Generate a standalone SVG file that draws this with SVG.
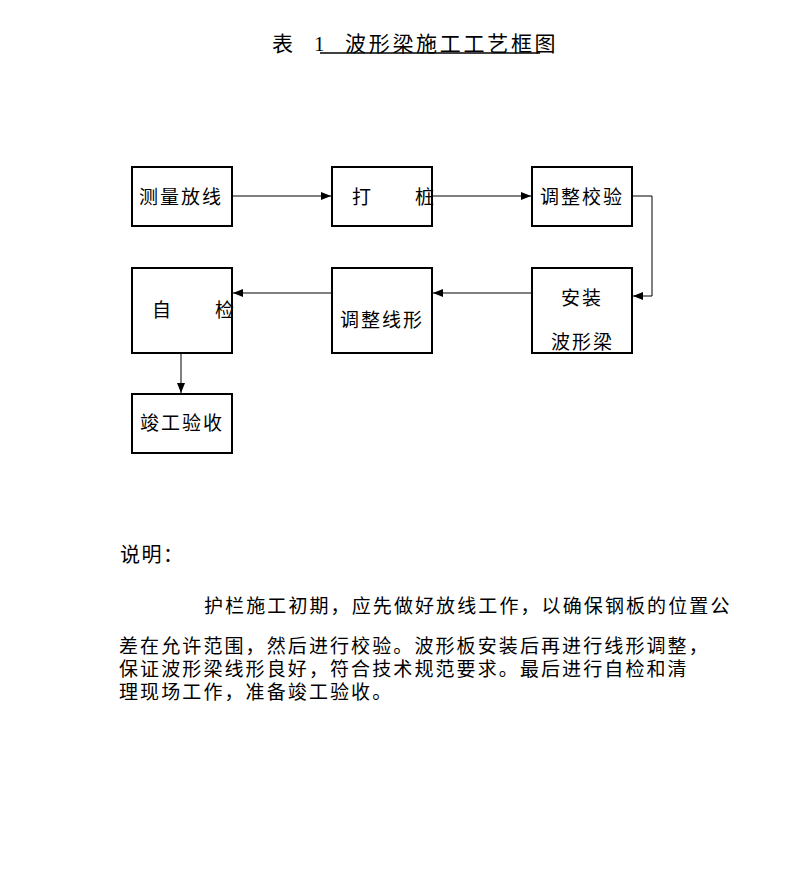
<svg xmlns="http://www.w3.org/2000/svg" width="791" height="870" viewBox="0 0 791 870">
<style>
text{font-family:"Noto Sans CJK SC","Liberation Serif",sans-serif;fill:#000;}
.n rect{fill:#fff;stroke:#000;stroke-width:2;}
.n text{font-size:19px;letter-spacing:2px;}
.c{fill:none;stroke:#000;stroke-width:1;}
.p{font-size:19px;letter-spacing:2.1px;}
</style>
<defs>
<marker id="ah" markerWidth="10" markerHeight="8" refX="10" refY="4" orient="auto" markerUnits="userSpaceOnUse">
<path d="M0,0 L10,4 L0,8 Z" fill="#000"/>
</marker>
</defs>
<rect width="791" height="870" fill="#fff"/>
<g id="title">
<text x="272" y="51" style="font-size:21px">表</text>
<text x="314" y="51" style="font-size:21px;font-family:'Liberation Serif',serif">1</text>
<text x="345" y="51" style="font-size:21px;letter-spacing:2.7px">波形梁施工工艺框图</text>
<line x1="320" y1="53" x2="540" y2="53" stroke="#000" stroke-width="1.5"/>
</g>
<g id="connectors">
<line class="c" x1="232" y1="196" x2="331" y2="196" marker-end="url(#ah)"/>
<line class="c" x1="432" y1="196" x2="531" y2="196" marker-end="url(#ah)"/>
<polyline class="c" points="632,196 652,196 652,296 633,296" marker-end="url(#ah)"/>
<line class="c" x1="532" y1="293" x2="433" y2="293" marker-end="url(#ah)"/>
<line class="c" x1="332" y1="293" x2="233" y2="293" marker-end="url(#ah)"/>
<line class="c" x1="181" y1="353" x2="181" y2="393" marker-end="url(#ah)"/>
</g>
<g id="n1" class="n"><rect x="132" y="167" width="100" height="59"/><text x="139" y="204">测量放线</text></g>
<g id="n2" class="n"><rect x="332" y="167" width="100" height="59"/><text x="352" y="204">打</text><text x="415" y="204">桩</text></g>
<g id="n3" class="n"><rect x="532" y="167" width="100" height="59"/><text x="540" y="204">调整校验</text></g>
<g id="n4" class="n"><rect x="532" y="268" width="100" height="85"/><text x="561" y="305">安装</text><text x="551" y="349">波形梁</text></g>
<g id="n5" class="n"><rect x="332" y="268" width="100" height="85"/><text x="340" y="327">调整线形</text></g>
<g id="n6" class="n"><rect x="132" y="268" width="100" height="85"/><text x="152" y="317">自</text><text x="215" y="317">检</text></g>
<g id="n7" class="n"><rect x="132" y="394" width="100" height="59"/><text x="140" y="430">竣工验收</text></g>
<g id="notes">
<text x="120" y="562" style="font-size:20px;letter-spacing:1.5px">说明：</text>
<text class="p" x="204" y="613">护栏施工初期，应先做好放线工作，以确保钢板的位置公</text>
<text class="p" x="119" y="653">差在允许范围，然后进行校验。波形板安装后再进行线形调整，</text>
<text class="p" x="119" y="676">保证波形梁线形良好，符合技术规范要求。最后进行自检和清</text>
<text class="p" x="119" y="699">理现场工作，准备竣工验收。</text>
</g>
</svg>
